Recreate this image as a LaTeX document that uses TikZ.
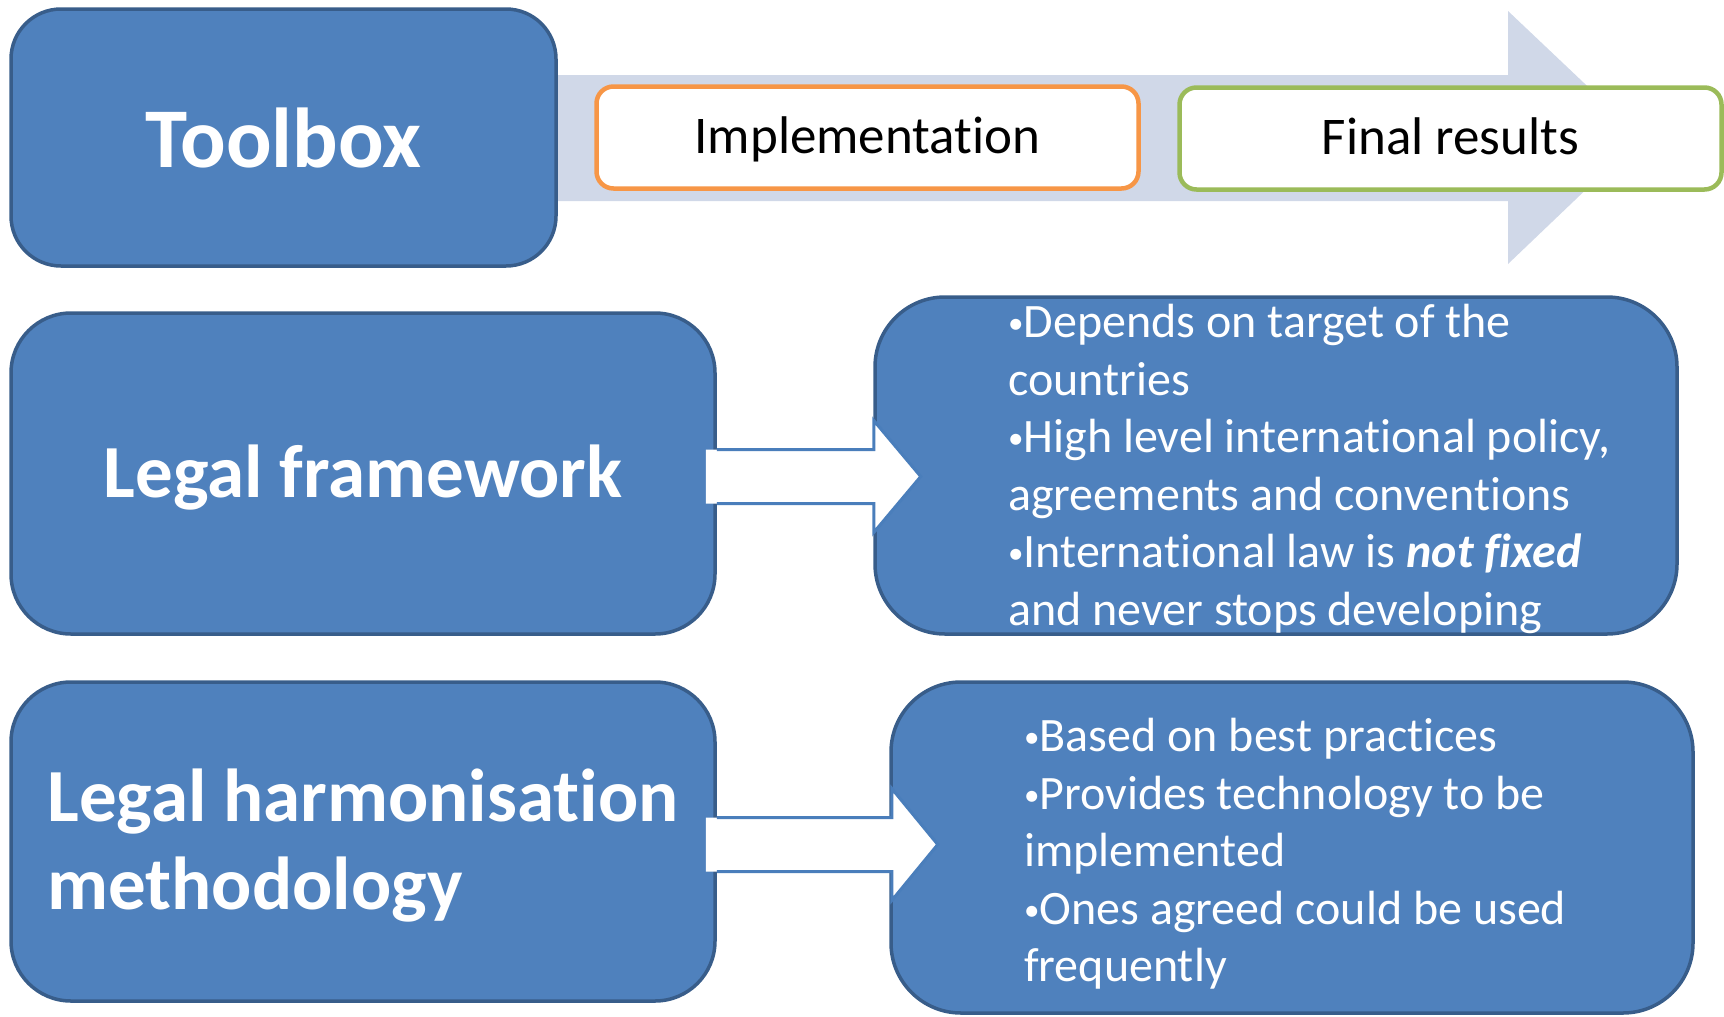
\documentclass[tikz,border=0pt]{standalone}
\usepackage{fontspec}
\setmainfont[Ligatures=NoCommon]{Carlito}
\definecolor{boxfill}{HTML}{4F81BD}
\definecolor{boxline}{HTML}{385D8A}
\definecolor{bandfill}{HTML}{D0D8E8}
\definecolor{implline}{HTML}{F79646}
\definecolor{resline}{HTML}{9BBB59}
\definecolor{arrline}{HTML}{4A7EBB}
\newcommand{\bul}{\raisebox{4pt}{\fontsize{31}{31}\selectfont•}}
\begin{document}
\begin{tikzpicture}[x=1pt, y=-1pt,
  block/.style={rectangle, draw=boxline, fill=boxfill, line width=3.5pt, text=white, inner sep=0pt},
  heading/.style={text depth=4pt, font=\fontsize{75}{88}\selectfont\bfseries},
  stage/.style={rectangle, rounded corners=17pt, fill=white, line width=4.5pt, inner sep=0pt, minimum width=542pt, minimum height=102pt, text height=36pt, text depth=5pt, font=\fontsize{53}{64}\selectfont},
  points/.style={anchor=north west, align=left, inner sep=0pt, text=white, font=\fontsize{48}{57.5}\selectfont},
  fat/.style={draw=arrline, line width=3pt, line join=miter}]
\useasboundingbox (0, 0) rectangle (1724, 1017);
\fill [bandfill] (556, 75) -- (1508, 75) -- (1508, 11) -- (1641, 137) -- (1508, 264) -- (1508, 201) -- (556, 201) -- cycle;
\node at (283.5, 137.5) (toolbox) [block, rounded corners=50pt, minimum width=545pt, minimum height=257pt, font=\fontsize{85}{100}\selectfont\bfseries] {Toolbox};
\node at (867.5, 137.5) (impl) [stage, draw=implline] {Implementation};
\node at (1450.5, 138.5) (results) [stage, draw=resline] {Final results};
\node at (363, 473.5) (frame) [block, heading, rounded corners=60pt, minimum width=704pt, minimum height=321pt] {Legal framework};
\node at (1276, 465.5) (frameout) [block, rounded corners=70pt, minimum width=802pt, minimum height=337pt] {};
\node at (363, 841.5) (method) [block, heading, rounded corners=60pt, minimum width=704pt, minimum height=319pt, align=left] {Legal harmonisation\\methodology};
\node at (1292, 847.5) (methodout) [block, rounded corners=70pt, minimum width=802pt, minimum height=331pt] {};
\node at (1008, 304) (frametext) [points] {\bul Depends on target of the\\countries\\\bul High level international policy,\\agreements and conventions\\\bul International law is \textbf{\textit{not fixed}}\\and never stops developing};
\node at (1024, 718) (methodtext) [points] {\bul Based on best practices\\\bul Provides technology to be\\implemented\\\bul Ones agreed could be used\\frequently};
\fill [white] ([shift={(-11, -24)}]frame.east) -- ++(168, 0) -- ++(0, -29) -- ++(47, 56) -- ++(-47, 56) -- ++(0, -29) -- ++(-168, 0) -- cycle;
\draw [fat] ([shift={(0, -24)}]frame.east) -- ++(157, 0) -- ++(0, -29) -- ++(47, 56) -- ++(-47, 56) -- ++(0, -29) -- ++(-157, 0);
\fill [white] ([shift={(-11, -24)}]method.east) -- ++(186, 0) -- ++(0, -29) -- ++(46, 56) -- ++(-46, 56) -- ++(0, -29) -- ++(-186, 0) -- cycle;
\draw [fat] ([shift={(0, -24)}]method.east) -- ++(175, 0) -- ++(0, -29) -- ++(46, 56) -- ++(-46, 56) -- ++(0, -29) -- ++(-175, 0);
\end{tikzpicture}
\end{document}
